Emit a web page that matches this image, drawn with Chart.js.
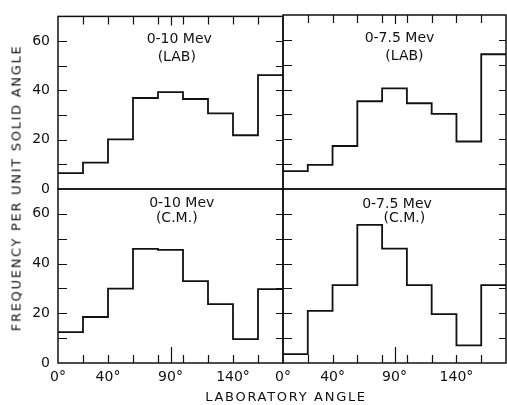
<!doctype html>
<html lang="en">
    <head>
        <meta charset="UTF-8" />
        <meta name="viewport" content="width=device-width, initial-scale=1.0" />
        <title>Angular distribution</title>
        <style>
            body {
                margin: 0;
                background: #fff;
            }
            .figure {
                position: relative;
                width: 507px;
                height: 405px;
            }
            .figure canvas {
                position: absolute;
                left: 0;
                top: 0;
            }
            .axis-title {
                position: absolute;
                font-family: "DejaVu Sans", sans-serif;
                font-size: 13px;
                color: #111;
                letter-spacing: 1.7px;
                white-space: nowrap;
            }
            #yTitle {
                left: 16px;
                top: 188px;
                transform: translate(-50%, -50%) rotate(-90deg);
            }
            #xTitle {
                left: 286px;
                top: 396px;
                transform: translate(-50%, -50%);
            }
        </style>
    </head>
    <body>
        <div class="figure">
            <canvas id="lab10" width="507" height="405"></canvas>
            <canvas id="lab75" width="507" height="405"></canvas>
            <canvas id="cm10" width="507" height="405"></canvas>
            <canvas id="cm75" width="507" height="405"></canvas>
            <div class="axis-title" id="yTitle">FREQUENCY PER UNIT SOLID ANGLE</div>
            <div class="axis-title" id="xTitle">LABORATORY ANGLE</div>
        </div>

        <script src="https://cdn.jsdelivr.net/npm/chart.js"></script>
        <script>
            // setup
            const binEdges = [0, 20, 40, 60, 80, 100, 120, 140, 160, 180];
            const xTickLabels = [0, 40, 90, 140];
            const yTickLabels = [0, 20, 40, 60];

            const lab10 = [6.4, 10.7, 20.1, 36.9, 39.3, 36.5, 30.7, 21.8, 46.2];
            const lab75 = [7.2, 9.7, 17.3, 35.3, 40.5, 34.5, 30.2, 19.1, 54.2];
            const cm10 = [12.4, 18.5, 29.9, 45.9, 45.5, 32.9, 23.7, 9.6, 29.7];
            const cm75 = [3.6, 21.0, 31.3, 55.6, 46.0, 31.3, 19.7, 7.1, 31.3];

            const titles10 = ["0-10 Mev"];
            const titles75 = ["0-7.5 Mev"];
            const frameLab = "(LAB)";
            const frameCm = "(C.M.)";

            const INK = "#111";
            const FONT = { family: "'DejaVu Sans', sans-serif", size: 14 };

            // histogram outline: one point per left bin edge, plus the closing edge
            function steps(values) {
                const pts = values.map((v, i) => ({ x: binEdges[i], y: v }));
                pts.push({ x: binEdges[binEdges.length - 1], y: values[values.length - 1] });
                return pts;
            }

            // plugin: frame with inward ticks
            const panelFrame = {
                id: "panelFrame",
                afterDatasetsDraw(chart, args, options) {
                    const {
                        ctx,
                        chartArea: { left, top, right, bottom },
                        scales: { x, y },
                    } = chart;
                    ctx.save();
                    ctx.strokeStyle = INK;
                    ctx.lineWidth = 1.5;
                    ctx.strokeRect(left, top, right - left, bottom - top);
                    ctx.lineWidth = 1.2;
                    ctx.beginPath();
                    for (let v = 10; v < 70; v += 10) {
                        const py = Math.round(y.getPixelForValue(v)) + 0.5;
                        ctx.moveTo(left, py);
                        ctx.lineTo(left + 9, py);
                        ctx.moveTo(right, py);
                        ctx.lineTo(right - 7, py);
                    }
                    const edge = options.edge === "top" ? top : bottom;
                    const dir = options.edge === "top" ? 1 : -1;
                    for (let v = 20; v < 180; v += 20) {
                        const px = Math.round(x.getPixelForValue(v)) + 0.5;
                        ctx.moveTo(px, edge);
                        ctx.lineTo(px, edge + dir * 8);
                    }
                    const p90 = Math.round(x.getPixelForValue(90)) + 0.5;
                    ctx.moveTo(p90, edge);
                    ctx.lineTo(p90, edge + dir * (options.edge === "top" ? 9 : 16));
                    ctx.stroke();
                    ctx.restore();
                },
            };

            // plugin: energy range and frame captions inside each panel
            const panelText = {
                id: "panelText",
                afterDatasetsDraw(chart, args, options) {
                    const {
                        ctx,
                        scales: { x, y },
                    } = chart;
                    ctx.save();
                    ctx.fillStyle = INK;
                    ctx.font = "14px 'DejaVu Sans', sans-serif";
                    ctx.textAlign = "center";
                    ctx.textBaseline = "middle";
                    options.lines.forEach((l) => {
                        ctx.fillText(l.text, x.getPixelForValue(l.x), y.getPixelForValue(l.y));
                    });
                    ctx.restore();
                },
            };

            function makePanel(id, values, lines, cfg) {
                const config = {
                    type: "line",
                    data: {
                        datasets: [
                            {
                                data: steps(values),
                                stepped: true,
                                borderColor: INK,
                                borderWidth: 1.8,
                                pointRadius: 0,
                                fill: false,
                            },
                        ],
                    },
                    options: {
                        responsive: false,
                        animation: false,
                        layout: { padding: cfg.padding },
                        scales: {
                            x: {
                                type: "linear",
                                min: 0,
                                max: 180,
                                display: cfg.showX,
                                grid: { display: false, drawTicks: false },
                                border: { display: false },
                                afterFit: (s) => {
                                    s.height = cfg.showX ? 42 : 0;
                                },
                                afterBuildTicks: (s) => {
                                    s.ticks = xTickLabels.map((v) => ({ value: v }));
                                },
                                ticks: {
                                    padding: 6,
                                    color: INK,
                                    font: FONT,
                                    maxRotation: 0,
                                    callback: (v) => v + "°",
                                },
                            },
                            y: {
                                min: 0,
                                max: 70,
                                display: cfg.showY,
                                grid: { display: false, drawTicks: false },
                                border: { display: false },
                                afterFit: (s) => {
                                    s.width = cfg.showY ? 58 : 0;
                                },
                                afterBuildTicks: (s) => {
                                    s.ticks = yTickLabels.map((v) => ({ value: v }));
                                },
                                ticks: { padding: 8, color: INK, font: FONT },
                            },
                        },
                        plugins: {
                            legend: { display: false },
                            tooltip: { enabled: false },
                            panelFrame: { edge: cfg.edge },
                            panelText: { lines: lines },
                        },
                    },
                    plugins: [panelFrame, panelText],
                };
                return new Chart(document.getElementById(id).getContext("2d"), config);
            }

            // init
            makePanel(
                "lab10",
                lab10,
                [
                    { text: titles10[0], x: 97, y: 60.5 },
                    { text: frameLab, x: 95, y: 53.5 },
                ],
                { padding: { left: 0, top: 15, right: 224, bottom: 216 }, showX: false, showY: true, edge: "top" }
            );
            makePanel(
                "lab75",
                lab75,
                [
                    { text: titles75[0], x: 94, y: 60.7 },
                    { text: frameLab, x: 98, y: 53.5 },
                ],
                { padding: { left: 283, top: 15, right: 1, bottom: 216 }, showX: false, showY: false, edge: "top" }
            );
            makePanel(
                "cm10",
                cm10,
                [
                    { text: titles10[0], x: 99, y: 64.4 },
                    { text: frameCm, x: 95, y: 58 },
                ],
                { padding: { left: 0, top: 189, right: 224, bottom: 0 }, showX: true, showY: true, edge: "bottom" }
            );
            makePanel(
                "cm75",
                cm75,
                [
                    { text: titles75[0], x: 92, y: 64 },
                    { text: frameCm, x: 98, y: 58.3 },
                ],
                { padding: { left: 283, top: 189, right: 1, bottom: 0 }, showX: true, showY: false, edge: "bottom" }
            );
        </script>
    </body>
</html>
